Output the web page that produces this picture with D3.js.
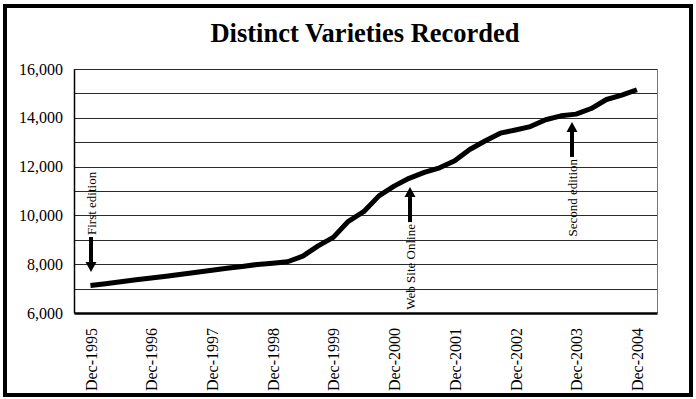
<!DOCTYPE html>
<html>
<head>
<meta charset="utf-8">
<script src="https://cdn.jsdelivr.net/npm/d3@7"></script>
<style>
  html, body { margin: 0; padding: 0; background: #fff; }
  svg { display: block; }
  text { font-family: "Liberation Serif", "Times New Roman", serif; fill: #000; }
</style>
</head>
<body>
<svg id="chart" width="696" height="399"></svg>
<script>
// quarterly readings, Dec-1995 .. Dec-2004
const months = [
  '1995-12', '1996-03', '1996-06', '1996-09',
  '1996-12', '1997-03', '1997-06', '1997-09',
  '1997-12', '1998-03', '1998-06', '1998-09',
  '1998-12', '1999-03', '1999-06', '1999-09',
  '1999-12', '2000-03', '2000-06', '2000-09',
  '2000-12', '2001-03', '2001-06', '2001-09',
  '2001-12', '2002-03', '2002-06', '2002-09',
  '2002-12', '2003-03', '2003-06', '2003-09',
  '2003-12', '2004-03', '2004-06', '2004-09',
  '2004-12'
];
const varieties = [
  7130, 7200, 7280, 7360,
  7430, 7510, 7590, 7670,
  7750, 7830, 7910, 7990,
  8040, 8100, 8330, 8750,
  9100, 9760, 10150, 10800,
  11200, 11520, 11760, 11950,
  12240, 12700, 13050, 13370,
  13500, 13640, 13920, 14080,
  14150, 14380, 14750, 14930,
  15150
];
const yTicks = [6000, 8000, 10000, 12000, 14000, 16000];
const gridValues = [7000, 8000, 9000, 10000, 11000, 12000, 13000, 14000, 15000, 16000];
const xTickMonths = ['1995-12', '1996-12', '1997-12', '1998-12', '1999-12',
                     '2000-12', '2001-12', '2002-12', '2003-12', '2004-12'];

// annotations: label, month, value at arrow tip, arrow direction
const noteLabels = ['First edition', 'Web Site Online', 'Second edition'];
const noteMonths = ['1995-12', '2001-03', '2003-11'];
const noteValues = [7680, 11160, 13830];
const noteDirs = ['down', 'up', 'up'];

const parse = d3.timeParse('%Y-%m');
const fmt = d3.timeFormat('%b-%Y');
const serif = '"Liberation Serif", "Times New Roman", serif';

const svg = d3.select('#chart');
const plot = { left: 74, top: 69, right: 657, bottom: 313 };

const x = d3.scaleTime()
  .domain([new Date(1995, 7, 24), new Date(2005, 3, 1)])
  .range([plot.left, plot.right]);

const y = d3.scaleLinear()
  .domain([6000, 16000])
  .range([plot.bottom, plot.top]);

// outer frame
svg.append('rect')
  .attr('x', 5).attr('y', 6)
  .attr('width', 686).attr('height', 389)
  .attr('fill', 'none')
  .attr('stroke', '#000')
  .attr('stroke-width', 4);

// title
svg.append('text')
  .attr('x', 365).attr('y', 42)
  .attr('text-anchor', 'middle')
  .style('font-size', '26.5px')
  .style('font-weight', 'bold')
  .text('Distinct Varieties Recorded');

// gridlines
svg.append('g')
  .selectAll('line')
  .data(gridValues)
  .join('line')
  .attr('x1', plot.left).attr('x2', plot.right)
  .attr('y1', d => Math.round(y(d)) + 0.5)
  .attr('y2', d => Math.round(y(d)) + 0.5)
  .attr('stroke', '#2a2a2a')
  .attr('stroke-width', 1);

// plot frame: right edge lighter
svg.append('line')
  .attr('x1', plot.right + 0.5).attr('x2', plot.right + 0.5)
  .attr('y1', plot.top).attr('y2', plot.bottom)
  .attr('stroke', '#777');

// y axis
const yAxis = svg.append('g')
  .attr('transform', `translate(${plot.left},0)`)
  .call(d3.axisLeft(y).tickValues(yTicks).tickSize(0).tickPadding(11)
    .tickFormat(d3.format(',')));
yAxis.select('.domain').attr('stroke', '#000').attr('stroke-width', 1.5);
yAxis.selectAll('text')
  .style('font-size', '16px')
  .style('font-family', serif);

// x axis
const xAxis = svg.append('g')
  .attr('transform', `translate(0,${plot.bottom})`)
  .call(d3.axisBottom(x).tickValues(xTickMonths.map(parse)).tickSize(0)
    .tickFormat(fmt));
xAxis.select('.domain').attr('stroke', '#000').attr('stroke-width', 2.5);
xAxis.selectAll('text')
  .attr('transform', 'rotate(-90)')
  .attr('text-anchor', 'end')
  .attr('x', -15)
  .attr('y', 0)
  .attr('dy', '0.35em')
  .style('font-size', '16px')
  .style('font-family', serif);

// the series
const points = months.map((m, i) => ({ date: parse(m), value: varieties[i] }));
svg.append('path')
  .datum(points)
  .attr('fill', 'none')
  .attr('stroke', '#000')
  .attr('stroke-width', 5)
  .attr('stroke-linejoin', 'round')
  .attr('d', d3.line().x(d => x(d.date)).y(d => y(d.value)));

// annotations: arrow + rotated label
const shaftLen = 25, headLen = 10, headHalf = 5.5, gap = 2;
noteLabels.forEach((label, i) => {
  const ax = Math.round(x(parse(noteMonths[i]))) + 1;
  const tip = y(noteValues[i]);
  const s = noteDirs[i] === 'down' ? -1 : 1;  // direction from tip to tail
  const g = svg.append('g');
  const baseY = tip + s * headLen;
  const tailY = baseY + s * shaftLen;
  g.append('line')
    .attr('x1', ax).attr('x2', ax)
    .attr('y1', baseY).attr('y2', tailY)
    .attr('stroke', '#000').attr('stroke-width', 4);
  g.append('path')
    .attr('d', `M${ax},${tip}L${ax - headHalf},${baseY}L${ax + headHalf},${baseY}Z`)
    .attr('fill', '#000');
  const textY = tailY + s * gap;
  g.append('text')
    .attr('transform', `translate(${ax},${textY}) rotate(-90)`)
    .attr('text-anchor', s > 0 ? 'end' : 'start')
    .attr('dy', '0.35em')
    .style('font-size', '13px')
    .text(label);
});
</script>
</body>
</html>
